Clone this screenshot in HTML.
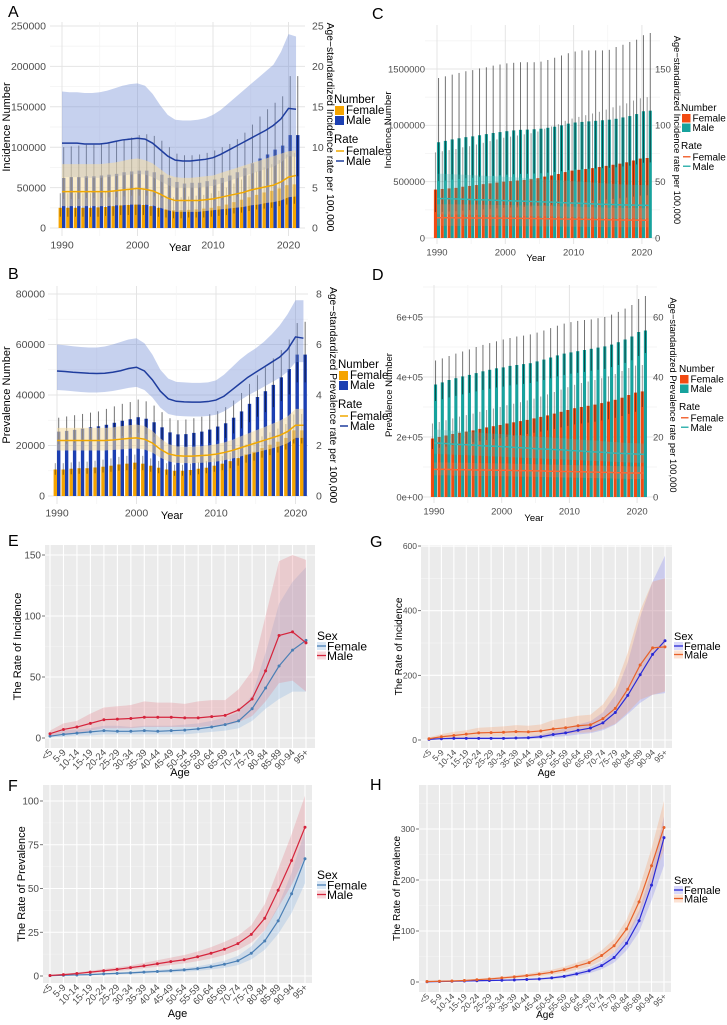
<!DOCTYPE html>
<html><head><meta charset="utf-8">
<style>
html,body{margin:0;padding:0;background:#fff;}
svg{display:block;font-family:"Liberation Sans",Arial,sans-serif;}
</style></head>
<body>
<svg id="fig" xmlns="http://www.w3.org/2000/svg" width="727" height="1025" viewBox="0 0 727 1025"></svg>
<script>
// ---------- data: year panels (numbers in thousands) ----------
const years=[1990,1991,1992,1993,1994,1995,1996,1997,1998,1999,2000,2001,2002,2003,2004,2005,2006,2007,2008,2009,2010,2011,2012,2013,2014,2015,2016,2017,2018,2019,2020,2021];

const A_femNum=[25,25,25,25,25,25.5,26,27,28,28.5,29,28.5,27,25,23,22,22,22.5,23,24,25,27,29,32,35,38,41,44,46,49,53,54];
const A_maleNum=[62,63,63,64,64,65,66,67,69,70,71,71,69,66,62,57,55,56,56,58,60,62,65,69,74,80,86,91,97,102,115,115];
const A_maleHi=[100,101,102,103,103,104,106,108,110,112,115,116,114,108,100,92,90,90,91,93,96,100,104,110,118,128,138,147,155,163,188,188];
const A_maleLo=[36,36,36,37,37,37,38,38,39,40,40,40,39,37,35,33,32,32,32,33,34,35,37,39,42,45,48,51,54,57,64,64];
const A_femHi=[43,43,43,43,43,44,45,46,47,48,50,49,46,43,40,38,38,39,40,41,43,46,50,55,60,65,70,75,79,84,91,93];
const A_femLo=[14,14,14,14,14,14,15,15,16,16,16,16,15,14,13,12,12,13,13,13,14,15,16,18,19,21,23,24,25,27,29,30];
const A_maleRate=[10.5,10.5,10.5,10.4,10.4,10.4,10.5,10.7,10.9,11.0,11.1,11.0,10.5,9.7,8.9,8.4,8.3,8.3,8.4,8.5,8.7,9.1,9.6,10.1,10.6,11.1,11.6,12.1,12.7,13.5,14.8,14.7];
const A_maleRateHi=[16.9,16.8,16.8,16.7,16.7,16.8,17.0,17.3,17.6,17.8,17.9,17.6,16.6,15.2,14.0,13.4,13.3,13.3,13.4,13.6,14.0,14.6,15.4,16.2,17.0,17.8,18.6,19.4,20.2,21.8,24.0,23.7];
const A_maleRateLo=[6.3,6.3,6.3,6.2,6.2,6.2,6.3,6.4,6.5,6.6,6.7,6.6,6.3,5.8,5.3,5.0,5.0,5.0,5.0,5.1,5.2,5.5,5.8,6.1,6.4,6.7,7.0,7.3,7.6,8.1,8.9,8.8];
const A_femRate=[4.5,4.5,4.5,4.5,4.5,4.5,4.5,4.6,4.7,4.8,4.9,4.8,4.6,4.2,3.7,3.4,3.4,3.4,3.4,3.5,3.6,3.8,4.0,4.2,4.4,4.7,4.9,5.1,5.3,5.7,6.3,6.5];
const A_femRateHi=[7.9,7.9,7.9,7.9,7.9,7.9,8.0,8.1,8.3,8.5,8.6,8.4,8.0,7.3,6.6,6.3,6.2,6.2,6.3,6.4,6.5,6.8,7.1,7.4,7.7,8.0,8.3,8.6,8.9,9.2,9.5,9.6];
const A_femRateLo=[2.7,2.7,2.7,2.7,2.7,2.7,2.7,2.8,2.8,2.9,2.9,2.9,2.8,2.5,2.2,2.0,2.0,2.0,2.0,2.1,2.2,2.3,2.4,2.5,2.6,2.8,2.9,3.1,3.2,3.4,3.8,3.9];

const B_femNum=[10.5,10.5,10.8,11,11,11.3,11.6,12,12.5,12.8,13.2,12.8,12,11.2,10.5,10,10,10.3,10.8,11.2,12,12.8,13.8,15,16.5,17.5,19,20.3,21.5,23,26,26];
const B_maleNum=[25.5,25.8,26.2,26.7,27.2,27.6,28.2,29,29.8,30.4,31.2,30.6,29.2,27.2,25.2,24.4,24.5,25,25.5,26.3,27.5,28.8,31,33.5,36.5,39.2,41.5,44,47,50.3,56,56];
const B_maleHi=[31,31.5,32,32.5,33,33.5,34.5,35.5,36.5,37.2,38.2,37.5,35.8,33.2,30.8,30,30.3,30.8,31.4,32.4,33.6,35.2,37.8,40.8,44.4,47.8,51,54.5,57.8,62,68.5,69];
const B_maleLo=[20.5,20.7,21,21.4,21.8,22,22.5,23.2,23.8,24.3,25,24.5,23.4,21.8,20.2,19.5,19.6,20,20.4,21,22,23,24.8,26.8,29.2,31.4,33.2,35.2,37.6,40.2,45,45];
const B_femHi=[13,13,13.3,13.6,13.6,14,14.4,14.9,15.5,15.9,16.4,15.9,14.9,13.9,13,12.4,12.4,12.8,13.4,13.9,14.9,15.9,17.1,18.6,20.5,21.7,23.6,25.2,26.7,28.5,32.3,32.5];
const B_femLo=[8.4,8.4,8.6,8.8,8.8,9,9.3,9.6,10,10.2,10.6,10.2,9.6,9,8.4,8,8,8.2,8.6,9,9.6,10.2,11,12,13.2,14,15.2,16.2,17.2,18.4,20.8,20.8];
const B_maleRate=[4.95,4.93,4.9,4.88,4.86,4.85,4.86,4.9,4.96,5.05,5.1,4.95,4.6,4.15,3.85,3.75,3.73,3.72,3.72,3.74,3.8,3.95,4.2,4.45,4.7,4.9,5.1,5.3,5.5,5.8,6.3,6.25];
const B_maleRateHi=[6.0,5.97,5.93,5.9,5.88,5.88,5.92,6.0,6.1,6.2,6.25,6.05,5.6,5.0,4.65,4.52,4.5,4.48,4.48,4.5,4.58,4.8,5.1,5.4,5.65,5.85,6.1,6.4,6.75,7.2,7.75,7.75];
const B_maleRateLo=[4.2,4.18,4.15,4.12,4.1,4.1,4.12,4.16,4.22,4.28,4.32,4.2,3.9,3.5,3.25,3.18,3.16,3.15,3.15,3.17,3.22,3.35,3.55,3.78,3.98,4.15,4.32,4.5,4.68,4.92,5.3,5.3];
const B_femRate=[2.2,2.2,2.2,2.2,2.2,2.2,2.2,2.22,2.25,2.28,2.3,2.25,2.1,1.85,1.67,1.6,1.58,1.58,1.6,1.62,1.66,1.72,1.8,1.9,2.0,2.1,2.2,2.3,2.4,2.55,2.8,2.8];
const B_femRateHi=[2.7,2.7,2.7,2.7,2.7,2.7,2.7,2.72,2.76,2.8,2.83,2.77,2.58,2.28,2.06,1.97,1.95,1.95,1.97,2.0,2.05,2.12,2.22,2.35,2.47,2.6,2.72,2.85,2.98,3.15,3.45,3.45];
const B_femRateLo=[1.8,1.8,1.8,1.8,1.8,1.8,1.8,1.82,1.84,1.87,1.88,1.84,1.72,1.52,1.37,1.31,1.3,1.3,1.31,1.33,1.36,1.41,1.48,1.56,1.64,1.72,1.8,1.88,1.97,2.09,2.3,2.3];

const C_femNum=[430,435,440,445,455,462,470,478,485,492,500,505,510,515,522,530,545,555,568,585,598,605,612,620,630,640,650,660,672,688,705,710];
const C_maleNum=[850,862,875,885,895,902,912,922,932,940,948,955,960,962,965,970,978,988,1000,1015,1025,1030,1035,1040,1045,1050,1058,1070,1082,1100,1125,1130];
const C_maleHi=[1420,1435,1450,1465,1480,1490,1505,1515,1530,1540,1550,1555,1560,1560,1560,1565,1580,1600,1620,1640,1655,1665,1665,1665,1665,1670,1695,1715,1740,1760,1800,1820];
const C_maleLo=[505,510,518,524,530,534,540,546,552,557,562,566,569,570,572,575,580,586,593,602,608,611,614,617,620,623,628,635,642,653,668,671];
const C_femHi=[760,770,780,790,805,815,830,845,860,875,890,900,910,920,930,945,970,990,1010,1040,1060,1075,1090,1105,1120,1140,1160,1175,1195,1220,1240,1250];
const C_femLo=[230,232,235,238,243,247,251,255,259,263,267,270,272,275,279,283,291,296,303,312,319,323,327,331,336,342,347,352,359,367,376,379];
const C_maleRate=[35,35,34.8,34.6,34.4,34.2,34,33.8,33.6,33.4,33.2,33,32.8,32.6,32.4,32.2,32,31.8,31.5,31.2,31,30.8,30.5,30.2,30,29.8,29.6,29.4,29.3,29.2,29.1,29];
const C_maleRateHi=[57,57,56.7,56.4,56.1,55.8,55.5,55.2,54.9,54.6,54.3,54,53.6,53.2,52.8,52.4,52,51.6,51.2,50.8,50.4,50,49.6,49.2,48.8,48.4,48,47.6,47.4,47.2,47,46.8];
const C_maleRateLo=[21,21,20.9,20.8,20.6,20.5,20.4,20.3,20.2,20,19.9,19.8,19.7,19.6,19.4,19.3,19.2,19.1,18.9,18.7,18.6,18.5,18.3,18.1,18,17.9,17.8,17.6,17.6,17.5,17.5,17.4];
const C_femRate=[18,18,18,17.9,17.9,17.8,17.8,17.7,17.7,17.6,17.6,17.5,17.4,17.4,17.3,17.2,17.1,17,16.9,16.8,16.7,16.6,16.5,16.4,16.3,16.2,16.1,16,16,15.9,15.9,15.8];
const C_femRateHi=[30,30,30,29.8,29.8,29.7,29.7,29.5,29.5,29.3,29.3,29.2,29,29,28.8,28.7,28.5,28.3,28.2,28,27.8,27.7,27.5,27.3,27.2,27,26.8,26.7,26.7,26.5,26.5,26.3];
const C_femRateLo=[10.8,10.8,10.8,10.7,10.7,10.7,10.7,10.6,10.6,10.6,10.6,10.5,10.4,10.4,10.4,10.3,10.3,10.2,10.1,10.1,10,10,9.9,9.8,9.8,9.7,9.7,9.6,9.6,9.5,9.5,9.5];

const D_femNum=[195,200,205,210,214,218,222,227,232,236,240,245,249,253,257,262,267,272,278,284,290,296,300,304,308,313,318,324,331,340,348,352];
const D_maleNum=[375,382,390,396,402,407,413,419,424,429,432,437,440,443,446,452,458,465,472,478,482,486,490,494,498,502,508,516,525,535,550,555];
const D_maleHi=[455,462,470,478,485,492,500,507,513,519,525,530,535,538,542,548,555,563,571,578,583,587,590,592,596,600,608,617,628,640,660,670];
const D_maleLo=[320,326,332,337,342,347,352,357,361,365,368,372,375,377,380,385,390,396,402,407,411,414,417,421,424,427,433,440,447,456,470,480];
const D_femHi=[245,250,256,262,268,273,278,284,290,295,300,306,311,316,322,328,335,342,350,358,366,374,380,385,390,396,402,410,420,430,438,440];
const D_femLo=[160,164,168,172,175,178,182,186,190,193,196,200,204,207,210,214,218,222,227,232,237,242,245,248,251,255,259,264,270,277,284,300];
const D_maleRate=[18,17.9,17.8,17.6,17.5,17.4,17.3,17.1,17,16.9,16.8,16.7,16.5,16.4,16.3,16.1,16,15.9,15.8,15.7,15.5,15.4,15.3,15.1,15,14.9,14.7,14.6,14.5,14.4,14.3,14.2];
const D_maleRateHi=[22.5,22.4,22.2,22,21.9,21.7,21.6,21.4,21.2,21.1,21,20.8,20.6,20.5,20.3,20.1,20,19.9,19.7,19.6,19.4,19.2,19.1,18.9,18.8,18.6,18.4,18.3,18.1,18,17.9,17.8];
const D_maleRateLo=[14.4,14.3,14.2,14.1,14,13.9,13.8,13.7,13.6,13.5,13.4,13.3,13.2,13.1,13,12.9,12.8,12.7,12.6,12.5,12.4,12.3,12.2,12.1,12,11.9,11.8,11.7,11.6,11.5,11.4,11.4];
const D_femRate=[9.2,9.2,9.2,9.1,9.1,9.1,9,9,9,8.9,8.9,8.9,8.8,8.8,8.8,8.7,8.7,8.6,8.6,8.5,8.5,8.4,8.4,8.3,8.3,8.2,8.2,8.1,8.1,8,8,8];
const D_femRateHi=[11.5,11.5,11.5,11.4,11.4,11.4,11.3,11.3,11.3,11.2,11.2,11.2,11.1,11.1,11,10.9,10.9,10.8,10.8,10.7,10.7,10.6,10.6,10.5,10.5,10.4,10.4,10.3,10.3,10.2,10.2,10.2];
const D_femRateLo=[7.2,7.2,7.2,7.1,7.1,7.1,7,7,7,6.9,6.9,6.9,6.8,6.8,6.8,6.7,6.7,6.6,6.6,6.5,6.5,6.4,6.4,6.3,6.3,6.2,6.2,6.1,6.1,6,6,6];

const A_leftTicks=[0,50,100,150,200,250];
const A_leftLabels=['0','50000','100000','150000','200000','250000'];
const A_rightTicks=[0,5,10,15,20,25];
const B_leftTicks=[0,20,40,60,80];
const B_leftLabels=['0','20000','40000','60000','80000'];
const B_rightTicks=[0,2,4,6,8];
const C_leftTicks=[0,500,1000,1500];
const C_leftLabels=['0','500000','1000000','1500000'];
const C_rightTicks=[0,50,100,150];
const D_leftTicks=[0,200,400,600];
const D_leftLabels=['0e+00','2e+05','4e+05','6e+05'];
const D_rightTicks=[0,20,40,60];
const yearTicks=[1990,2000,2010,2020];

// ---------- data: age panels ----------
const ages=['<5','5-9','10-14','15-19','20-24','25-29','30-34','35-39','40-44','45-49','50-54','55-59','60-64','65-69','70-74','75-79','80-84','85-89','90-94','95+'];
const E_female=[1.5,3,4,5,6,5.5,5.5,6,5.5,6,6.5,7.5,9,11,14,24,41,59,72,80];
const E_male=[3.5,7,9,12,15,15.5,16,17,17,17,16.5,16.5,17.5,18.5,23,32,55,84,87,78];
const E_femaleHi=[3,6,7,8,10,10,9,10,10,10,11,12,14,17,21,35,70,110,128,140];
const E_femaleLo=[0.5,1,2,2,3,3,3,3,3,3,3,4,5,6,8,14,24,32,38,38];
const E_maleHi=[6,12,14,20,25,26,27,30,29,29,28,30,31,31,40,55,100,145,150,146];
const E_maleLo=[1,3,4,6,8,8,8,9,9,9,9,9,10,10,13,18,30,45,47,38];
const F_female=[0.2,0.4,0.6,0.8,1.2,1.5,1.8,2.2,2.6,3,3.5,4.2,5.3,6.7,8.7,13,20,31.5,47,67];
const F_male=[0.3,0.8,1.4,2.2,3,3.8,4.8,5.8,7,8.2,9.3,11,13,15.3,18.5,23.8,33,49,66,85];
const F_femaleHi=[0.3,0.6,0.9,1.2,1.6,2,2.4,2.9,3.4,4,4.6,5.5,7,8.8,11.5,17,26,40,59,83];
const F_femaleLo=[0.1,0.2,0.4,0.5,0.8,1,1.2,1.5,1.8,2,2.4,2.9,3.7,4.7,6.2,9.5,15,24,36,53];
const F_maleHi=[0.5,1.2,2,3,4,5,6,7.5,9,10.5,12,14,16.5,19.5,23,29,41,61,81,103];
const F_maleLo=[0.2,0.5,1,1.5,2.2,2.8,3.6,4.4,5.3,6.3,7.2,8.5,10,12,14.8,19,26,39,52,68];
const G_female=[2,4,5,5,5,5,5,6,7,10,17,22,30,37,53,85,138,202,265,307];
const G_male=[4,10,14,18,22,23,24,26,25,28,34,38,44,47,66,98,157,232,285,288];
const G_femaleHi=[4,7,9,9,9,9,9,10,12,16,28,36,48,58,85,140,240,380,490,570];
const G_femaleLo=[1,2,2,2,2,2,2,3,3,5,9,12,17,21,30,48,80,115,140,145];
const G_maleHi=[8,18,25,30,38,40,42,46,44,48,62,68,75,78,110,165,270,400,490,500];
const G_maleLo=[1,4,6,8,10,11,11,12,12,13,16,18,22,24,34,50,85,125,140,150];
const H_female=[0.5,1,1.5,2,2.5,3,3.5,4,5,6,8,11,16,22,32,48,76,120,190,283];
const H_male=[1,1.5,2,3,4.5,6,8,10,12.5,15.5,19,24,31,38,52,71,104,157,228,303];
const H_femaleHi=[0.8,1.4,2,2.7,3.3,4,4.6,5.3,6.5,7.8,10.3,14,20,27,39,58,90,140,218,325];
const H_femaleLo=[0.3,0.7,1,1.4,1.8,2.1,2.5,2.8,3.6,4.3,5.8,8,12,17,25,38,62,98,160,228];
const H_maleHi=[1.4,2,2.7,4,6,8,10.5,13,16,20,24,30,38,46,62,84,122,182,262,355];
const H_maleLo=[0.6,1,1.4,2,3.2,4.3,5.8,7.3,9.3,11.5,14.5,18.5,24,30,42,58,86,132,195,258];
const E_ticks=[0,50,100,150];
const F_ticks=[0,25,50,75,100];
const G_ticks=[0,200,400,600];
const H_ticks=[0,100,200,300];

// ---------- helpers ----------
const NS='http://www.w3.org/2000/svg';
const svg=document.getElementById('fig');
function mk(tag,attrs,parent){const e=document.createElementNS(NS,tag);for(const k in attrs)e.setAttribute(k,attrs[k]);(parent||svg).appendChild(e);return e;}
function tx(s,attrs,parent){const e=mk('text',attrs,parent);e.textContent=s;return e;}
function pathFrom(xs,ys){return xs.map((x,i)=>(i?'L':'M')+x.toFixed(2)+','+ys[i].toFixed(2)).join('');}
function bandPath(xs,hi,lo){let d=pathFrom(xs,hi);for(let i=xs.length-1;i>=0;i--)d+='L'+xs[i].toFixed(2)+','+lo[i].toFixed(2);return d+'Z';}

// ---------- dual-axis bar/line panel ----------
function drawDual(p,dat){
  const g=mk('g',{});
  
  
  const X=y=>p.xYear0+p.dx*(y-1990);
  const YL=v=>p.y0-v*p.sL;
  const YR=v=>p.y0-v*p.sR;
  const lt=p.leftTicks;
  const step=lt[1]-lt[0];
  for(let v=step/2;YL(v)>=p.yTop;v+=step){
    const l=mk('line',{x1:p.x0,x2:p.x1,y1:YL(v),y2:YL(v),stroke:'#f3f3f3','stroke-width':0.8},g);
    
    
  }
  lt.forEach(v=>{
    const l=mk('line',{x1:p.x0,x2:p.x1,y1:YL(v),y2:YL(v),stroke:'#e4e4e4','stroke-width':1},g);
    
    
  });
  [1995,2005,2015].forEach(y=>{
    const l=mk('line',{x1:X(y),x2:X(y),y1:p.yTop,y2:p.yBot,stroke:'#f3f3f3','stroke-width':0.8},g);
    
    
  });
  yearTicks.forEach(y=>{
    const l=mk('line',{x1:X(y),x2:X(y),y1:p.yTop,y2:p.yBot,stroke:'#e4e4e4','stroke-width':1},g);
    
    
  });
  const bw=p.bw;
  years.forEach((y,i)=>{
    const xc=X(y);
    const fr=mk('rect',{x:xc-bw,y:YL(dat.femNum[i]),width:bw,height:YL(0)-YL(dat.femNum[i]),fill:p.femCol},g);
    
    
    const mr=mk('rect',{x:xc,y:YL(dat.maleNum[i]),width:bw,height:YL(0)-YL(dat.maleNum[i]),fill:p.maleCol},g);
    
    
  });
  years.forEach((y,i)=>{
    const xc=X(y);
    const fe=mk('line',{x1:xc-bw/2,x2:xc-bw/2,y1:YL(dat.femHi[i]),y2:YL(dat.femLo[i]),stroke:'rgba(0,0,0,0.4)','stroke-width':1},g);
    
    
    const me=mk('line',{x1:xc+bw/2,x2:xc+bw/2,y1:YL(dat.maleHi[i]),y2:YL(dat.maleLo[i]),stroke:'rgba(0,0,0,0.55)','stroke-width':1},g);
    
    
  });
  const xs=years.map(X);
  const mb=mk('path',{d:bandPath(xs,dat.maleRateHi.map(YR),dat.maleRateLo.map(YR)),fill:p.maleBand},g);
  
  
  const fb=mk('path',{d:bandPath(xs,dat.femRateHi.map(YR),dat.femRateLo.map(YR)),fill:p.femBand},g);
  
  
  const ml=mk('path',{d:pathFrom(xs,dat.maleRate.map(YR)),fill:'none',stroke:p.maleLine,'stroke-width':1.5},g);
  
  
  const fl=mk('path',{d:pathFrom(xs,dat.femRate.map(YR)),fill:'none',stroke:p.femLine,'stroke-width':1.5},g);
  
  
  lt.forEach((v,i)=>{
    const t=tx(p.leftLabels[i],{x:p.lTickX,y:YL(v)+p.fs*0.35,'text-anchor':'end','font-size':p.fs,fill:'#4d4d4d'},g);
    
    
  });
  p.rightTicks.forEach(v=>{
    const t=tx(String(v),{x:p.rTickX,y:YR(v)+p.fs*0.35,'text-anchor':'start','font-size':p.fs,fill:'#4d4d4d'},g);
    
    
  });
  yearTicks.forEach(y=>{
    const t=tx(String(y),{x:X(y),y:p.yBot+p.fs+2,'text-anchor':'middle','font-size':p.fs,fill:'#4d4d4d'},g);
    
    
  });
  const xt=tx('Year',{x:p.yearX,y:p.yearY,'text-anchor':'middle','font-size':p.tfs,fill:'#000'},g);
  
  
  const lyt=tx(p.leftTitle,{x:0,y:0,'text-anchor':'middle','font-size':p.tfs,fill:'#000',transform:`translate(${p.lTitleX},${p.titleCY}) rotate(-90)`},g);
  
  
  const ryt=tx(p.rightTitle,{x:0,y:0,'text-anchor':'middle','font-size':p.rtfs,fill:'#000',transform:`translate(${p.rTitleX},${p.titleCY}) rotate(90)`},g);
  
  
  const pl=tx(p.letter,{x:p.letterX,y:p.letterY,'font-size':16,fill:'#000'},g);
  
  
  const lx=p.legX, ly=p.legY, s=p.legStep, lf=p.legFs;
  const n1=tx('Number',{x:lx,y:ly,'font-size':lf,fill:'#000'},g);
  
  
  [[p.femCol,'Female'],[p.maleCol,'Male']].forEach((e,k)=>{
    const r=mk('rect',{x:lx+1,y:ly+3+k*s,width:s-1,height:s-1,fill:e[0]},g);
    
    
    const t=tx(e[1],{x:lx+s+2,y:ly+s+1+k*s,'font-size':lf,fill:'#000'},g);
    
    
  });
  const ry=ly+s*4;
  const n2=tx('Rate',{x:lx,y:ry,'font-size':lf,fill:'#000'},g);
  
  
  [[p.femLine,'Female'],[p.maleLine,'Male']].forEach((e,k)=>{
    const yy=ry+3+s/2+k*s;
    const l=mk('line',{x1:lx+2,x2:lx+s,y1:yy,y2:yy,stroke:e[0],'stroke-width':1.5},g);
    
    
    const t=tx(e[1],{x:lx+s+2,y:yy+lf*0.35,'font-size':lf,fill:'#000'},g);
    
    
  });
}

// ---------- age line panel ----------
function drawAge(p,dat){
  const g=mk('g',{});
  
  
  const X=i=>p.xFirst+(p.xLast-p.xFirst)*i/(ages.length-1);
  const Y=v=>p.y0-v*p.sY;
  const bg=mk('rect',{x:p.bx0,y:p.by0,width:p.bx1-p.bx0,height:p.by1-p.by0,fill:'#ebebeb'},g);
  
  
  const t=p.ticks, st=t[1]-t[0];
  for(let v=st/2;Y(v)>=p.by0;v+=st){
    const l=mk('line',{x1:p.bx0,x2:p.bx1,y1:Y(v),y2:Y(v),stroke:'#f5f5f5','stroke-width':0.6},g);
    
    
  }
  t.forEach(v=>{
    const l=mk('line',{x1:p.bx0,x2:p.bx1,y1:Y(v),y2:Y(v),stroke:'#fff','stroke-width':1.1},g);
    
    
  });
  ages.forEach((a,i)=>{
    const l=mk('line',{x1:X(i),x2:X(i),y1:p.by0,y2:p.by1,stroke:'#fff','stroke-width':1.1},g);
    
    
  });
  const xs=ages.map((a,i)=>X(i));
  const fb=mk('path',{d:bandPath(xs,dat.femHi.map(Y),dat.femLo.map(Y)),fill:p.femBand},g);
  
  
  const mb=mk('path',{d:bandPath(xs,dat.maleHi.map(Y),dat.maleLo.map(Y)),fill:p.maleBand},g);
  
  
  [[dat.fem,p.femCol,'female'],[dat.male,p.maleCol,'male']].forEach(s=>{
    const l=mk('path',{d:pathFrom(xs,s[0].map(Y)),fill:'none',stroke:s[1],'stroke-width':1.2},g);
    
    
    s[0].forEach((v,i)=>{
      const c=mk('circle',{cx:X(i),cy:Y(v),r:1.5,fill:s[1]},g);
      
      
    });
  });
  t.forEach(v=>{
    const tl=tx(String(v),{x:p.bx0-4,y:Y(v)+p.fs*0.35,'text-anchor':'end','font-size':p.fs,fill:'#4d4d4d'},g);
    
    
    const tk=mk('line',{x1:p.bx0-3,x2:p.bx0,y1:Y(v),y2:Y(v),stroke:'#555','stroke-width':0.8},g);
    
    
  });
  ages.forEach((a,i)=>{
    const tl=tx(a,{x:0,y:0,'text-anchor':'end','font-size':p.xfs,fill:'#4d4d4d',transform:`translate(${X(i)+3},${p.by1+5}) rotate(-45)`},g);
    
    
  });
  const xt=tx('Age',{x:(p.bx0+p.bx1)/2,y:p.ageY,'text-anchor':'middle','font-size':p.tfs,fill:'#000'},g);
  
  
  const yt=tx(p.yTitle,{x:0,y:0,'text-anchor':'middle','font-size':p.tfs,fill:'#000',transform:`translate(${p.yTitleX},${(p.by0+p.by1)/2}) rotate(-90)`},g);
  
  
  const pl=tx(p.letter,{x:p.letterX,y:p.letterY,'font-size':16,fill:'#000'},g);
  
  
  const lx=p.legX, ly=p.legY, lf=p.legFs;
  const st2=tx('Sex',{x:lx,y:ly,'font-size':lf,fill:'#000'},g);
  
  
  [[p.femCol,p.femBand,'Female'],[p.maleCol,p.maleBand,'Male']].forEach((e,k)=>{
    const yy=ly+6+k*p.legStep;
    const r=mk('rect',{x:lx,y:yy-4,width:9,height:8,fill:e[1]},g);
    
    
    const l=mk('line',{x1:lx,x2:lx+9,y1:yy,y2:yy,stroke:e[0],'stroke-width':1.3},g);
    
    
    const tt=tx(e[2],{x:lx+10,y:yy+lf*0.36,'font-size':lf,fill:'#000'},g);
    
    
  });
}

// ---------- draw ----------
const abStyle={femCol:'#f5a400',maleCol:'#1c3fb2',femLine:'#f0a800',maleLine:'#1f3d9e',maleBand:'rgba(120,145,215,0.42)',femBand:'rgba(245,220,160,0.55)',bw:3.4};
const cdStyle={femCol:'#f24a12',maleCol:'#17a29d',femLine:'#f26a3a',maleLine:'#3ab4b0',maleBand:'rgba(80,190,185,0.28)',femBand:'rgba(245,140,100,0.25)',bw:3.1};

drawDual(Object.assign({name:'panel-a',letter:'A',letterX:8,letterY:17,x0:50,x1:305,yTop:22,yBot:236,xYear0:62,dx:7.55,y0:228,sL:0.808,sR:8.08,
  leftTicks:A_leftTicks,leftLabels:A_leftLabels,rightTicks:A_rightTicks,fs:10.5,tfs:11,rtfs:10.3,lTickX:46,rTickX:312,yearX:180,yearY:251,
  leftTitle:'Incidence Number',rightTitle:'Age−standardized Incidence rate per 100,000',lTitleX:10,rTitleX:327,titleCY:127,
  legX:334,legY:103,legStep:10,legFs:11.5},abStyle),
  {femNum:A_femNum,maleNum:A_maleNum,femHi:A_femHi,femLo:A_femLo,maleHi:A_maleHi,maleLo:A_maleLo,maleRate:A_maleRate,maleRateHi:A_maleRateHi,maleRateLo:A_maleRateLo,femRate:A_femRate,femRateHi:A_femRateHi,femRateLo:A_femRateLo});

drawDual(Object.assign({name:'panel-b',letter:'B',letterX:8,letterY:279,x0:48,x1:308,yTop:286,yBot:504,xYear0:57,dx:7.95,y0:496,sL:2.525,sR:25.25,
  leftTicks:B_leftTicks,leftLabels:B_leftLabels,rightTicks:B_rightTicks,fs:10.5,tfs:11,rtfs:10.3,lTickX:45,rTickX:316,yearX:172,yearY:519,
  leftTitle:'Prevalence Number',rightTitle:'Age−standardized Prevalence rate per 100,000',lTitleX:10,rTitleX:330,titleCY:395,
  legX:338,legY:368,legStep:10,legFs:11.5},abStyle),
  {femNum:B_femNum,maleNum:B_maleNum,femHi:B_femHi,femLo:B_femLo,maleHi:B_maleHi,maleLo:B_maleLo,maleRate:B_maleRate,maleRateHi:B_maleRateHi,maleRateLo:B_maleRateLo,femRate:B_femRate,femRateHi:B_femRateHi,femRateLo:B_femRateLo});

drawDual(Object.assign({name:'panel-c',letter:'C',letterX:372,letterY:19,x0:425,x1:660,yTop:25,yBot:244,xYear0:437,dx:6.83,y0:238,sL:0.11267,sR:1.1267,
  leftTicks:C_leftTicks,leftLabels:C_leftLabels,rightTicks:C_rightTicks,fs:9.5,tfs:9.5,rtfs:9.3,lTickX:425,rTickX:655,yearX:536,yearY:261,
  leftTitle:'Incidence Number',rightTitle:'Age−standardized Incidence rate per 100,000',lTitleX:391,rTitleX:674,titleCY:130,
  legX:681,legY:111,legStep:9.5,legFs:10},cdStyle),
  {femNum:C_femNum,maleNum:C_maleNum,femHi:C_femHi,femLo:C_femLo,maleHi:C_maleHi,maleLo:C_maleLo,maleRate:C_maleRate,maleRateHi:C_maleRateHi,maleRateLo:C_maleRateLo,femRate:C_femRate,femRateHi:C_femRateHi,femRateLo:C_femRateLo});

drawDual(Object.assign({name:'panel-d',letter:'D',letterX:372,letterY:280,x0:423,x1:657,yTop:285,yBot:503,xYear0:434,dx:6.77,y0:497,sL:0.3,sR:3,
  leftTicks:D_leftTicks,leftLabels:D_leftLabels,rightTicks:D_rightTicks,fs:9.5,tfs:9.5,rtfs:9.3,lTickX:423,rTickX:653,yearX:534,yearY:521,
  leftTitle:'Prevalence Number',rightTitle:'Age−standardized Prevalence rate per 100,000',lTitleX:392,rTitleX:670,titleCY:395,
  legX:679,legY:372,legStep:9.5,legFs:10},cdStyle),
  {femNum:D_femNum,maleNum:D_maleNum,femHi:D_femHi,femLo:D_femLo,maleHi:D_maleHi,maleLo:D_maleLo,maleRate:D_maleRate,maleRateHi:D_maleRateHi,maleRateLo:D_maleRateLo,femRate:D_femRate,femRateHi:D_femRateHi,femRateLo:D_femRateLo});

const efStyle={femCol:'#4a7fb5',maleCol:'#d5243c',femBand:'rgba(150,185,225,0.35)',maleBand:'rgba(230,130,140,0.3)'};
const ghStyle={femCol:'#2a2ad6',maleCol:'#e8622a',femBand:'rgba(130,130,240,0.3)',maleBand:'rgba(245,160,110,0.3)'};

drawAge(Object.assign({name:'panel-e',letter:'E',letterX:8,letterY:546,bx0:45,bx1:315,by0:545,by1:748,xFirst:50,xLast:306,y0:738,sY:1.22,ticks:E_ticks,fs:10,xfs:9.5,tfs:11,
  yTitle:'The Rate of Incidence',yTitleX:21,ageY:776,legX:317,legY:640,legStep:9.5,legFs:12},efStyle),
  {fem:E_female,male:E_male,femHi:E_femaleHi,femLo:E_femaleLo,maleHi:E_maleHi,maleLo:E_maleLo});
drawAge(Object.assign({name:'panel-f',letter:'F',letterX:8,letterY:791,bx0:43,bx1:312,by0:785,by1:983,xFirst:50,xLast:305,y0:976,sY:1.75,ticks:F_ticks,fs:10,xfs:9.5,tfs:11,
  yTitle:'The Rate of Prevalence',yTitleX:25,ageY:1017,legX:317,legY:879,legStep:9.5,legFs:12},efStyle),
  {fem:F_female,male:F_male,femHi:F_femaleHi,femLo:F_femaleLo,maleHi:F_maleHi,maleLo:F_maleLo});
drawAge(Object.assign({name:'panel-g',letter:'G',letterX:370,letterY:547,bx0:421,bx1:672,by0:545,by1:748,xFirst:429,xLast:665,y0:740,sY:0.3233,ticks:G_ticks,fs:8.5,xfs:8.5,tfs:10,
  yTitle:'The Rate of Incidence',yTitleX:402,ageY:776,legX:674,legY:640,legStep:8.5,legFs:11},ghStyle),
  {fem:G_female,male:G_male,femHi:G_femaleHi,femLo:G_femaleLo,maleHi:G_maleHi,maleLo:G_maleLo});
drawAge(Object.assign({name:'panel-h',letter:'H',letterX:370,letterY:790,bx0:419,bx1:671,by0:785,by1:992,xFirst:427,xLast:664,y0:982,sY:0.51,ticks:H_ticks,fs:8.5,xfs:8.5,tfs:10,
  yTitle:'The Rate of Prevalence',yTitleX:400,ageY:1018,legX:674,legY:884,legStep:8.5,legFs:11},ghStyle),
  {fem:H_female,male:H_male,femHi:H_femaleHi,femLo:H_femaleLo,maleHi:H_maleHi,maleLo:H_maleLo});
</script>
</body></html>
